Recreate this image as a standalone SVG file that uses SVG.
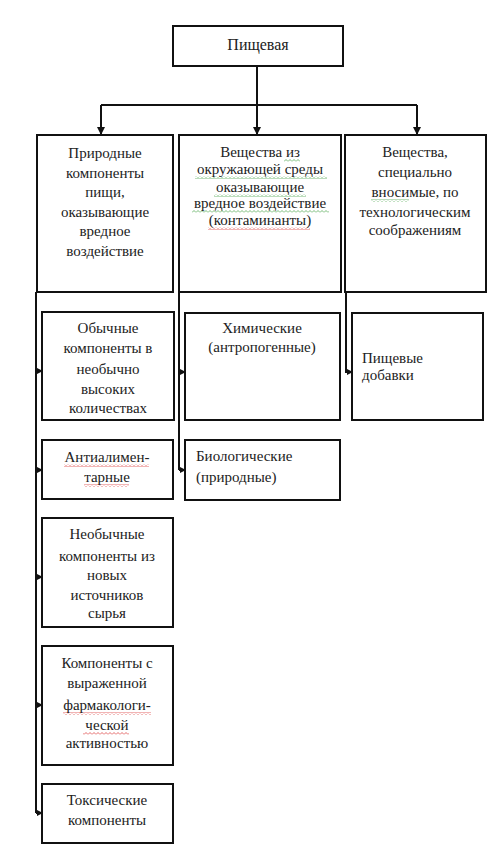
<svg xmlns="http://www.w3.org/2000/svg" width="500" height="847" viewBox="0 0 500 847" font-family="'Liberation Serif', 'DejaVu Serif', 'Times New Roman', serif">
<style>
.box{fill:#fff;stroke:#111;stroke-width:2}
.t{font-family:'Liberation Serif','DejaVu Serif','Times New Roman',serif;font-size:15px;fill:#222}
.c{text-anchor:middle}
.ln{stroke:#111;stroke-width:2;fill:none}
</style>
<defs>
<marker id="ah" markerWidth="6" markerHeight="6" refX="5" refY="3" orient="auto" markerUnits="userSpaceOnUse">
<path d="M0,0 L6,3 L0,6 Z" fill="#111"/>
</marker>
<marker id="ahd" markerWidth="8" markerHeight="8" refX="7" refY="4" orient="auto" markerUnits="userSpaceOnUse">
<path d="M0,0 L8,4 L0,8 Z" fill="#111"/>
</marker>
<pattern id="wg" width="4" height="3" patternUnits="userSpaceOnUse"><path d="M0,2.5 L2,0.5 L4,2.5" stroke="#5a5" stroke-width="0.8" fill="none"/></pattern>
<pattern id="wr" width="4" height="3" patternUnits="userSpaceOnUse"><path d="M0,2.5 L2,0.5 L4,2.5" stroke="#d44" stroke-width="0.8" fill="none"/></pattern>
</defs>
<g id="connectors">
<path class="ln" d="M257,66 V105"/>
<path class="ln" d="M101,105 H417"/>
<path class="ln" d="M101,105 V134" marker-end="url(#ahd)"/>
<path class="ln" d="M257,105 V134" marker-end="url(#ahd)"/>
<path class="ln" d="M417,105 V134" marker-end="url(#ahd)"/>
<path class="ln" d="M36,292 V813"/>
<path class="ln" d="M36,371 H42" marker-end="url(#ah)"/>
<path class="ln" d="M36,470 H42" marker-end="url(#ah)"/>
<path class="ln" d="M36,577 H42" marker-end="url(#ah)"/>
<path class="ln" d="M36,705 H42" marker-end="url(#ah)"/>
<path class="ln" d="M36,813 H42" marker-end="url(#ah)"/>
<path class="ln" d="M179,292 V470"/>
<path class="ln" d="M179,372 H185" marker-end="url(#ah)"/>
<path class="ln" d="M179,470 H185" marker-end="url(#ah)"/>
<path class="ln" d="M346,292 V372 H352" marker-end="url(#ah)"/>
</g>
<g id="n-root">
<rect class="box" x="173" y="26" width="170" height="40"/>
<text class="t c" x="258" y="50" style="font-size:16px">Пищевая</text>
</g>
<g id="n-natural">
<rect class="box" x="37" y="135" width="136" height="157"/>
<text class="t c" x="105" y="158">Природные</text>
<text class="t c" x="105" y="178">компоненты</text>
<text class="t c" x="105" y="197">пищи,</text>
<text class="t c" x="105" y="217">оказывающие</text>
<text class="t c" x="105" y="236">вредное</text>
<text class="t c" x="105" y="256">воздействие</text>
</g>
<g id="n-env">
<rect class="box" x="179" y="135" width="162" height="157"/>
<rect x="284" y="159" width="16" height="3" fill="url(#wg)"/>
<rect x="195" y="176" width="132" height="3" fill="url(#wg)"/>
<rect x="214" y="194" width="92" height="3" fill="url(#wg)"/>
<rect x="192" y="210" width="137" height="3" fill="url(#wg)"/>
<rect x="208" y="227" width="102" height="3" fill="url(#wr)"/>
<text class="t c" x="260" y="157">Вещества из</text>
<text class="t c" x="260" y="174">окружающей среды</text>
<text class="t c" x="260" y="192">оказывающие</text>
<text class="t c" x="260" y="208">вредное воздействие</text>
<text class="t c" x="260" y="225">(контаминанты)</text>
</g>
<g id="n-additive-src">
<rect class="box" x="345" y="135" width="141" height="157"/>
<rect x="371" y="199" width="38" height="3" fill="url(#wg)"/>
<text class="t c" x="415" y="157">Вещества,</text>
<text class="t c" x="415" y="177">специально</text>
<text class="t c" x="415" y="197">вносимые, по</text>
<text class="t c" x="415" y="217">технологическим</text>
<text class="t c" x="415" y="235">соображениям</text>
</g>
<g id="n-usual">
<rect class="box" x="42" y="312" width="132" height="108"/>
<text class="t c" x="108" y="333">Обычные</text>
<text class="t c" x="108" y="353">компоненты в</text>
<text class="t c" x="108" y="374">необычно</text>
<text class="t c" x="108" y="394">высоких</text>
<text class="t c" x="108" y="413">количествах</text>
</g>
<g id="n-antialim">
<rect class="box" x="42" y="440" width="131" height="59"/>
<rect x="64" y="464" width="85" height="3" fill="url(#wr)"/>
<rect x="84" y="484" width="45" height="3" fill="url(#wr)"/>
<text class="t c" x="107" y="462">Антиалимен-</text>
<text class="t c" x="107" y="482">тарные</text>
</g>
<g id="n-unusual">
<rect class="box" x="42" y="518" width="131" height="109"/>
<text class="t c" x="107" y="539">Необычные</text>
<text class="t c" x="107" y="561">компоненты из</text>
<text class="t c" x="107" y="580">новых</text>
<text class="t c" x="107" y="600">источников</text>
<text class="t c" x="107" y="618">сырья</text>
</g>
<g id="n-pharma">
<rect class="box" x="42" y="646" width="131" height="119"/>
<rect x="63" y="712" width="88" height="3" fill="url(#wr)"/>
<rect x="83" y="732" width="46" height="3" fill="url(#wr)"/>
<text class="t c" x="107" y="668">Компоненты с</text>
<text class="t c" x="107" y="688">выраженной</text>
<text class="t c" x="107" y="710">фармакологи-</text>
<text class="t c" x="107" y="730">ческой</text>
<text class="t c" x="107" y="748">активностью</text>
</g>
<g id="n-toxic">
<rect class="box" x="42" y="784" width="131" height="59"/>
<text class="t c" x="107" y="805">Токсические</text>
<text class="t c" x="107" y="825">компоненты</text>
</g>
<g id="n-chem">
<rect class="box" x="185" y="313" width="155" height="107"/>
<text class="t c" x="262" y="333">Химические</text>
<text class="t c" x="262" y="352">(антропогенные)</text>
</g>
<g id="n-bio">
<rect class="box" x="185" y="440" width="155" height="60"/>
<text class="t" x="196" y="461">Биологические</text>
<text class="t" x="196" y="482">(природные)</text>
</g>
<g id="n-additives">
<rect class="box" x="352" y="313" width="131" height="107"/>
<text class="t" x="362" y="363">Пищевые</text>
<text class="t" x="362" y="380">добавки</text>
</g>
</svg>
